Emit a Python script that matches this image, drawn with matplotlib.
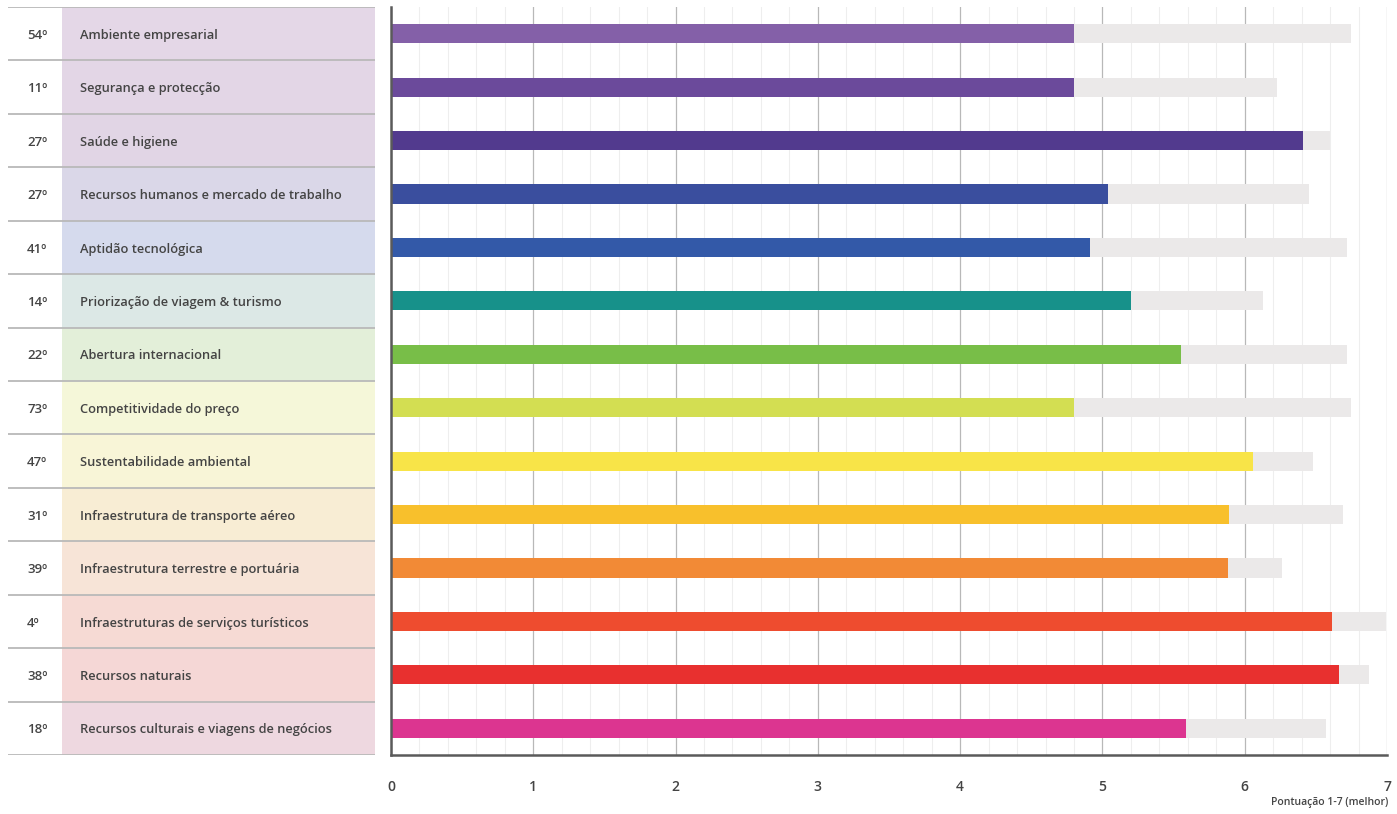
import numpy as np
import matplotlib.pyplot as plt
from matplotlib.patches import Rectangle
from matplotlib.ticker import MultipleLocator

plt.rcParams['font.family'] = ['Open Sans', 'DejaVu Sans']

ranks = ['54º', '11º', '27º', '27º', '41º', '14º', '22º',
         '73º', '47º', '31º', '39º', '4º', '38º', '18º']
pillars = [
    'Ambiente empresarial',
    'Segurança e protecção',
    'Saúde e higiene',
    'Recursos humanos e mercado de trabalho',
    'Aptidão tecnológica',
    'Priorização de viagem & turismo',
    'Abertura internacional',
    'Competitividade do preço',
    'Sustentabilidade ambiental',
    'Infraestrutura de transporte aéreo',
    'Infraestrutura terrestre e portuária',
    'Infraestruturas de serviços turísticos',
    'Recursos naturais',
    'Recursos culturais e viagens de negócios',
]
score = [4.80, 4.80, 6.41, 5.04, 4.91, 5.20, 5.55,
         4.80, 6.06, 5.89, 5.88, 6.61, 6.66, 5.59]
best = [6.75, 6.23, 6.60, 6.45, 6.72, 6.13, 6.72,
        6.75, 6.48, 6.69, 6.26, 6.99, 6.87, 6.57]

bar_colors = ['#8460a8', '#6b4a9b', '#523a8e', '#3a4e9e', '#3359a8',
              '#17918a', '#78be48', '#d3de52', '#f8e448', '#f8c02c',
              '#f28a36', '#ee4c2f', '#e8302f', '#dc3590']
cell_colors = ['#e4d7e7', '#e3d6e6', '#e1d5e5', '#dad7e8', '#d5daed',
               '#dce8e6', '#e3efd9', '#f5f7d9', '#f8f5d7', '#f8edd4',
               '#f7e4d7', '#f6dad4', '#f5d7d6', '#eed8e0']

n = len(pillars)
ypos = np.arange(n)

fig = plt.figure(figsize=(13.97, 8.14), dpi=100)
W, H = 1397, 814

# bar panel
ax = fig.add_axes([391 / W, 1 - 755 / H, (1387 - 391) / W, (755 - 7) / H])
ax.set_xlim(0, 7)
ax.set_ylim(n - 0.5, -0.5)

ax.xaxis.set_major_locator(MultipleLocator(1))
ax.xaxis.set_minor_locator(MultipleLocator(0.2))
ax.grid(axis='x', which='major', color='#b8b8b8', lw=0.9, zorder=0)
ax.grid(axis='x', which='minor', color='#eeeeee', lw=0.8, zorder=0)
ax.set_axisbelow(True)

ax.barh(ypos, best, height=0.36, color='#ebe9e9', zorder=2)
ax.barh(ypos, score, height=0.36, color=bar_colors, zorder=3)

for s in ['top', 'right']:
    ax.spines[s].set_visible(False)
for s in ['left', 'bottom']:
    ax.spines[s].set_color('#5a5a5a')
    ax.spines[s].set_linewidth(1.8)
    ax.spines[s].set_zorder(5)

ax.set_yticks([])
ax.set_xticks(range(8))
ax.set_xticklabels([str(i) for i in range(8)])
ax.tick_params(axis='x', which='both', length=0, pad=18,
               labelsize=10, labelcolor='#444444')
for lbl in ax.get_xticklabels():
    lbl.set_fontweight('semibold')
fig.text(1388 / W, 1 - 803 / H, 'Pontuação 1-7 (melhor)', fontsize=7.5,
         color='#444444', fontweight='semibold', ha='right', va='center')

# table on the left
tx = fig.add_axes([8 / W, 1 - 755 / H, (375 - 8) / W, (755 - 7) / H])
tx.set_xlim(8, 375)
tx.set_ylim(n - 0.5, -0.5)
tx.axis('off')
for i in range(n):
    tx.add_patch(Rectangle((62, i - 0.5), 375 - 62, 1,
                           color=cell_colors[i], lw=0, zorder=1))
    tx.text(27, i + 0.03, ranks[i], ha='left', va='center', fontsize=9.5,
            color='#444444', fontweight='semibold', zorder=3)
    tx.text(80, i + 0.03, pillars[i], ha='left', va='center', fontsize=9.3,
            color='#444444', fontweight='semibold', zorder=3)
for b in np.arange(n + 1) - 0.5:
    tx.plot([8, 375], [b, b], color='#b9b9b9', lw=1.3, zorder=2,
            solid_capstyle='butt')

fig.savefig('out.png', dpi=100)
